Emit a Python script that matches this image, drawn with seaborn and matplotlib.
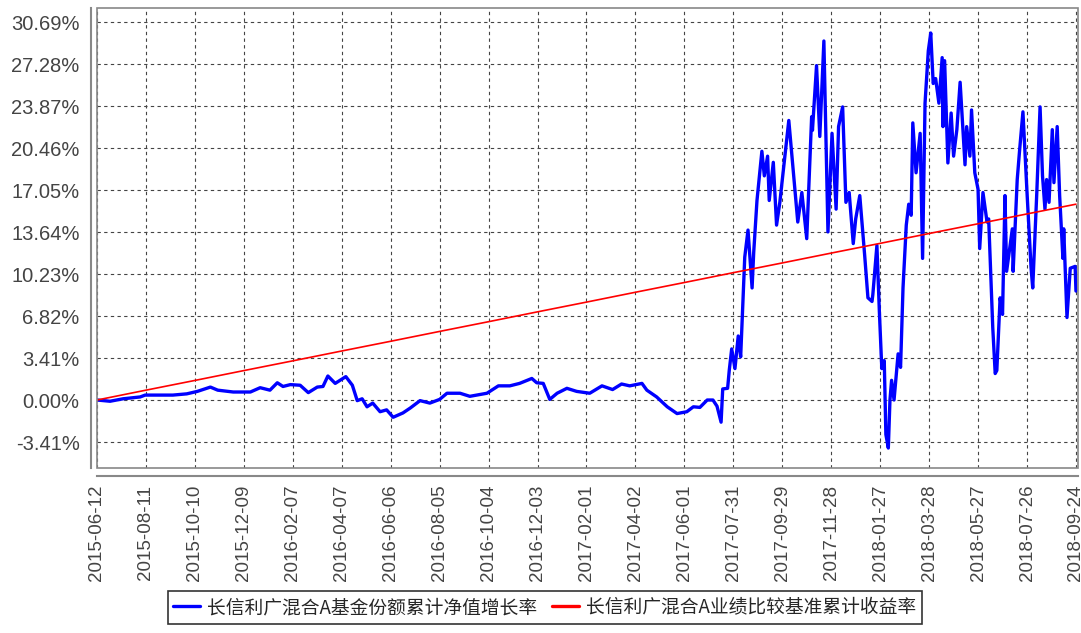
import numpy as np
import pandas as pd
import matplotlib
matplotlib.use("Agg")
import matplotlib.pyplot as plt
import matplotlib.dates as mdates
from matplotlib.patches import Rectangle
import seaborn as sns

# ---------------- data ----------------
start_date = "2015-06-12"
series_fund = "长信利广混合A基金份额累计净值增长率"
series_bench = "长信利广混合A业绩比较基准累计收益率"

# days since start_date, and fund cumulative NAV growth (%)
fund_days = [0, 16, 32, 53, 59, 93, 110, 123, 139, 148, 167, 188, 200, 212, 221, 228, 237,
             249, 259, 270, 277, 283, 292, 298, 305, 313, 319, 325, 331, 338, 347, 355, 363,
             375, 384, 393, 396, 408, 420, 429, 445, 457, 478, 492, 506, 518, 533, 539, 547,
             555, 564, 576, 588, 604, 619, 632, 643, 653, 668, 674, 686, 699, 711, 723, 731,
             739, 748, 755, 760, 765, 767, 773, 775, 778, 782, 786, 789, 794, 798, 803, 805,
             809, 815, 818, 822, 824, 829, 833, 837, 848, 857, 859, 864, 870, 876, 877, 882,
             886, 891, 896, 901, 906, 909, 914, 918, 922, 927, 930, 935, 941, 945, 950, 951,
             956, 959, 962, 965, 967, 970, 972, 974, 977, 982, 985, 988, 992, 995, 998, 1000,
             1004, 1009, 1012, 1015, 1019, 1022, 1025, 1028, 1032, 1036, 1037, 1039, 1043,
             1047, 1050, 1054, 1058, 1064, 1066, 1070, 1072, 1076, 1080, 1082, 1086, 1091,
             1093, 1098, 1101, 1103, 1107, 1110, 1113, 1115, 1122, 1123, 1128, 1131, 1135,
             1140, 1145, 1147, 1152, 1156, 1159, 1162, 1164, 1167, 1171, 1173, 1177, 1180,
             1184, 1185, 1189, 1193, 1199, 1200]
fund_values = [0.0, -0.1, 0.1, 0.25, 0.4, 0.4, 0.5, 0.7, 1.05, 0.8, 0.65, 0.65, 1.0, 0.8,
               1.4, 1.1, 1.25, 1.2, 0.6, 1.05, 1.1, 1.95, 1.35, 1.6, 1.9, 1.2, -0.05, 0.1,
               -0.55, -0.25, -0.95, -0.8, -1.4, -1.05, -0.65, -0.2, -0.05, -0.25, 0.05, 0.55,
               0.55, 0.3, 0.55, 1.15, 1.15, 1.35, 1.75, 1.4, 1.35, 0.05, 0.55, 0.95, 0.7,
               0.55, 1.15, 0.85, 1.3, 1.15, 1.35, 0.8, 0.25, -0.55, -1.1, -0.95, -0.55,
               -0.6, 0.0, 0.0, -0.5, -1.8, 0.9, 0.95, 2.4, 4.15, 2.55, 5.2, 3.5, 11.6, 13.8,
               9.1, 12.0, 16.2, 20.2, 18.2, 19.8, 16.2, 19.3, 14.2, 16.05, 22.7, 15.9, 14.45,
               16.85, 13.1, 23.0, 21.9, 27.15, 21.4, 29.15, 13.65, 21.65, 15.5, 22.2, 23.8,
               16.05, 16.85, 12.7, 14.7, 16.6, 11.75, 8.3, 8.0, 8.55, 12.55, 7.2, 2.55, 3.2,
               -2.8, -3.9, 0.0, 1.6, 0.0, 3.75, 2.65, 9.1, 14.2, 15.9, 15.0, 22.5, 18.45,
               21.65, 11.5, 24.1, 28.35, 29.8, 25.7, 26.1, 24.1, 27.8, 22.2, 27.55, 19.25,
               23.3, 19.8, 21.95, 25.8, 19.1, 22.2, 19.8, 23.55, 18.45, 17.1, 12.3, 16.85,
               14.45, 14.7, 5.9, 2.15, 2.4, 8.3, 6.95, 16.6, 10.45, 13.9, 10.45, 17.9, 20.35,
               23.4, 16.85, 10.7, 9.1, 16.85, 23.8, 18.2, 15.5, 17.9, 16.05, 21.95, 17.65,
               22.2, 16.6, 11.5, 13.9, 6.7, 10.7, 10.85, 8.85]

# x tick labels (dates) and benchmark cumulative return (%) at those dates
tick_labels = ["2015-06-12", "2015-08-11", "2015-10-10", "2015-12-09", "2016-02-07",
               "2016-04-07", "2016-06-06", "2016-08-05", "2016-10-04", "2016-12-03",
               "2017-02-01", "2017-04-02", "2017-06-01", "2017-07-31", "2017-09-29",
               "2017-11-28", "2018-01-27", "2018-03-28", "2018-05-27", "2018-07-26",
               "2018-09-24"]
bench_values = [0.0, 0.80, 1.59, 2.39, 3.18, 3.98, 4.77, 5.57, 6.36, 7.16, 7.95, 8.75,
                9.54, 10.34, 11.13, 11.93, 12.72, 13.52, 14.31, 15.11, 15.9]

y_ticks = [-3.41, 0.00, 3.41, 6.82, 10.23, 13.64, 17.05, 20.46, 23.87, 27.28, 30.69]

# ---------------- frames ----------------
fund_df = pd.DataFrame({
    "date": pd.to_datetime(start_date) + pd.to_timedelta(fund_days, unit="D"),
    "value": fund_values,
})
bench_df = pd.DataFrame({"date": pd.to_datetime(tick_labels), "value": bench_values})

# ---------------- style ----------------
sns.set_style("white")
plt.rcParams["font.family"] = ["Liberation Sans", "Noto Sans CJK SC", "DejaVu Sans"]

fig = plt.figure(figsize=(10.81, 6.33), dpi=100)
ax = fig.add_axes([97 / 1081, 1 - 468 / 633, (1078 - 97) / 1081, (468 - 8) / 633])

sns.lineplot(data=fund_df, x="date", y="value", ax=ax, color="#0000FF", lw=2.4,
             label=series_fund)
sns.lineplot(data=bench_df, x="date", y="value", ax=ax, color="#FF0000", lw=1.2,
             label=series_bench)

tick_dates = pd.to_datetime(tick_labels)
ax.set_xticks(tick_dates)
ax.set_xticklabels(tick_labels)
ax.set_xlim(tick_dates[0], tick_dates[-1] + pd.Timedelta(days=2.5))

ax.set_yticks(y_ticks)
ax.set_yticklabels([f"{v:.2f}%" for v in y_ticks])
ax.set_ylim(-5.52, 31.83)

ax.set_xlabel("")
ax.set_ylabel("")

ax.grid(True, linestyle=(0, (3, 3)), color="#444444", lw=0.8)

for s in ["top", "right"]:
    ax.spines[s].set_visible(False)
ax.spines["left"].set_position(("outward", 4.5))
ax.spines["bottom"].set_position(("outward", 6))
for s in ["left", "bottom"]:
    ax.spines[s].set_color("#888888")
    ax.spines[s].set_linewidth(1.5)

ax.add_patch(Rectangle((0, 0), 1, 1, transform=ax.transAxes, fill=False,
                       edgecolor="#888888", lw=1.2, clip_on=False, zorder=5))

ax.tick_params(axis="both", which="both", length=3, width=1, color="#888888",
               labelsize=14.5, labelcolor="#444444", direction="out")
ax.tick_params(axis="y", pad=5)
ax.tick_params(axis="x", pad=3, labelrotation=90, labelsize=13.5)

handles, labels = ax.get_legend_handles_labels()
ax.get_legend().remove()
leg = fig.legend(handles, labels, loc="lower center", bbox_to_anchor=(0.504, 0.0),
                 ncol=2, frameon=True, fancybox=False, handlelength=1.4,
                 columnspacing=0.8, handletextpad=0.4, borderpad=0.3,
                 prop={"family": ["Noto Sans CJK SC", "DejaVu Sans"], "size": 13.5})
leg.get_frame().set_edgecolor("black")
leg.get_frame().set_linewidth(1.2)
for h in leg.legend_handles:
    h.set_linewidth(2.4)

fig.savefig("out.png", dpi=100)
